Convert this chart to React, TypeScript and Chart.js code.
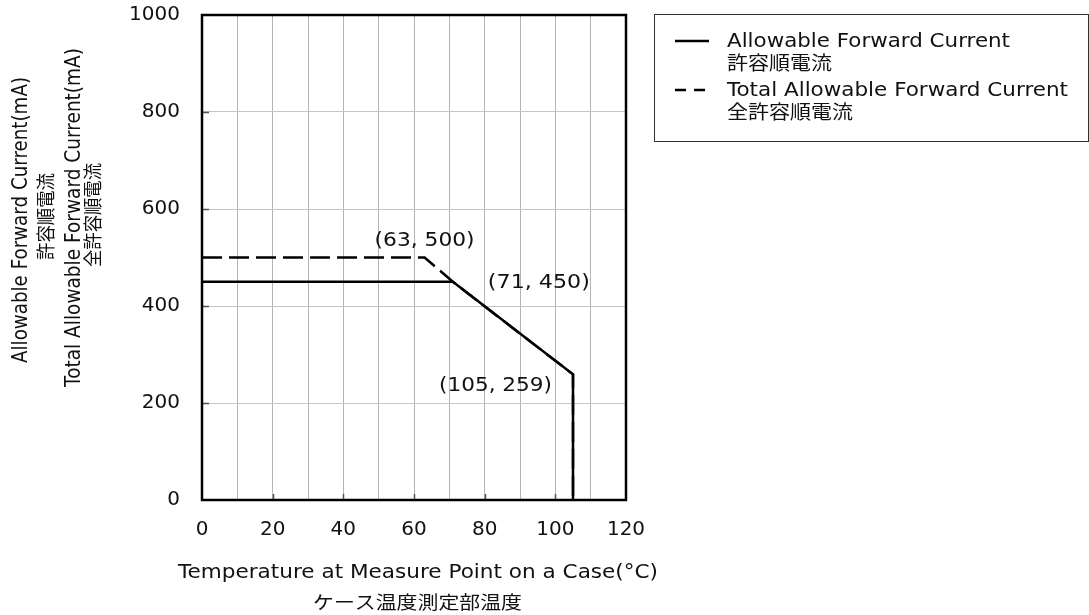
import React, { useEffect, useRef } from "react";
import { Chart, registerables } from "chart.js";

Chart.register(...registerables);

// Data
const solidX = [0, 71, 105, 105];
const solidY = [450, 450, 259, 0];
const dashX = [0, 63, 71, 105, 105];
const dashY = [500, 500, 450, 259, 0];
const noteX = [63, 71, 105];
const noteY = [500, 450, 259];
const noteText = ["(63, 500)", "(71, 450)", "(105, 259)"];
const xTitle = ["Temperature at Measure Point on a Case(°C)", "ケース温度測定部温度"];
const yTitle = [
  "Allowable Forward Current(mA)",
  "許容順電流",
  "Total Allowable Forward Current(mA)",
  "全許容順電流",
];
const legendLabels = [
  ["Allowable Forward Current", "許容順電流"],
  ["Total Allowable Forward Current", "全許容順電流"],
];

const FONT = "'DejaVu Sans', Verdana, sans-serif";
const CJK = "'Noto Sans CJK JP', 'DejaVu Sans', sans-serif";

// draw text scaled along its own axis to a given width
function txt(
  ctx: any,
  s: string,
  x: number,
  y: number,
  font: string,
  width: number,
  align: "left" | "center" | "right"
) {
  ctx.font = font;
  ctx.textAlign = "left";
  ctx.textBaseline = "alphabetic";
  const w = ctx.measureText(s).width;
  const sx = width / w;
  const x0 = align === "left" ? x : align === "center" ? x - width / 2 : x - width;
  ctx.save();
  ctx.translate(x0, y);
  ctx.scale(sx, 1);
  ctx.fillText(s, 0, 0);
  ctx.restore();
}

const overlay = {
  id: "overlay",
  afterDraw(chart: any) {
    const ctx = chart.ctx as CanvasRenderingContext2D;
    const { left, right, top, bottom } = chart.chartArea;
    const xs = chart.scales.x;
    const ys = chart.scales.y;
    ctx.save();
    // inner tick marks
    ctx.strokeStyle = "#555";
    ctx.lineWidth = 1.5;
    for (let v = 200; v <= 800; v += 200) {
      const py = Math.round(ys.getPixelForValue(v)) + 0.5;
      ctx.beginPath();
      ctx.moveTo(left, py);
      ctx.lineTo(left + 7, py);
      ctx.stroke();
    }
    for (let v = 20; v <= 100; v += 20) {
      const px = Math.round(xs.getPixelForValue(v)) + 0.5;
      ctx.beginPath();
      ctx.moveTo(px, bottom);
      ctx.lineTo(px, bottom - 6);
      ctx.stroke();
    }
    // box
    ctx.strokeStyle = "#000";
    ctx.lineWidth = 2.5;
    ctx.strokeRect(left, top, right - left, bottom - top);

    ctx.fillStyle = "#111";
    // annotations
    const offs = [
      { dx: 0, dy: -12, w: 100, align: "center" },
      { dx: 35, dy: 6, w: 102, align: "left" },
      { dx: -21, dy: 16.5, w: 113, align: "right" },
    ];
    noteText.forEach((t, i) => {
      const px = xs.getPixelForValue(noteX[i]);
      const py = ys.getPixelForValue(noteY[i]);
      txt(ctx, t, px + offs[i].dx, py + offs[i].dy, `20px ${FONT}`, offs[i].w, offs[i].align as any);
    });

    // x title
    txt(ctx, xTitle[0], 418, 578, `20px ${FONT}`, 480, "center");
    txt(ctx, xTitle[1], 417.5, 609, `18px ${CJK}`, 209, "center");

    // y title (rotated)
    const yLines = [
      { x: 27, cy: 220, w: 286, font: `21px ${FONT}` },
      { x: 53, cy: 216.5, w: 87, font: `19px ${CJK}` },
      { x: 80, cy: 217.5, w: 339, font: `21px ${FONT}` },
      { x: 100, cy: 215, w: 104, font: `19px ${CJK}` },
    ];
    yTitle.forEach((t, i) => {
      const L = yLines[i];
      ctx.save();
      ctx.translate(L.x, L.cy);
      ctx.rotate(-Math.PI / 2);
      txt(ctx, t, 0, 0, L.font, L.w, "center");
      ctx.restore();
    });

    // legend
    ctx.strokeStyle = "#333";
    ctx.lineWidth = 1;
    ctx.strokeRect(654.5, 14.5, 434, 127);
    const rows = [41, 90];
    const lw = [283, 341];
    const cw = [105, 126];
    ctx.lineWidth = 2.5;
    ctx.strokeStyle = "#000";
    rows.forEach((ry, i) => {
      ctx.beginPath();
      ctx.setLineDash(i === 0 ? [] : [11, 8]);
      ctx.moveTo(675, ry);
      ctx.lineTo(709, ry);
      ctx.stroke();
      ctx.setLineDash([]);
      txt(ctx, legendLabels[i][0], 727, ry + 6, `19px ${FONT}`, lw[i], "left");
      txt(ctx, legendLabels[i][1], 727, ry + 29, `19px ${CJK}`, cw[i], "left");
    });
    ctx.restore();
  },
};

export default function App() {
  const ref = useRef<HTMLCanvasElement>(null);
  useEffect(() => {
    if (!ref.current) return;
    const chart = new Chart(ref.current, {
      type: "line",
      data: {
        datasets: [
          {
            label: "Allowable Forward Current",
            data: solidX.map((x, i) => ({ x, y: solidY[i] })),
            borderColor: "#000",
            borderWidth: 2.5,
            pointRadius: 0,
            fill: false,
            tension: 0,
            order: 0,
          },
          {
            label: "Total Allowable Forward Current",
            data: dashX.map((x, i) => ({ x, y: dashY[i] })),
            borderColor: "#000",
            borderWidth: 2.5,
            borderDash: [20, 7],
            pointRadius: 0,
            fill: false,
            tension: 0,
            order: 1,
          },
        ],
      },
      options: {
        responsive: false,
        animation: false,
        layout: { padding: { left: 0, top: 15, right: 463, bottom: 0 } },
        plugins: { legend: { display: false }, tooltip: { enabled: false } },
        scales: {
          x: {
            type: "linear",
            min: 0,
            max: 120,
            afterFit: (s: any) => {
              s.height = 115;
              s.paddingLeft = 0;
              s.paddingRight = 0;
            },
            ticks: {
              stepSize: 10,
              autoSkip: false,
              maxRotation: 0,
              padding: 18,
              color: "#111",
              font: { family: FONT, size: 20 },
              callback: (v: any) => (Number(v) % 20 === 0 ? String(v) : ""),
            },
            grid: { color: "#b4b4b4", lineWidth: 1, drawTicks: false, tickLength: 0 },
            border: { display: false },
          },
          y: {
            type: "linear",
            min: 0,
            max: 1000,
            afterFit: (s: any) => {
              s.width = 202;
              s.paddingTop = 0;
              s.paddingBottom = 0;
            },
            ticks: {
              stepSize: 200,
              padding: 22,
              color: "#111",
              font: { family: FONT, size: 20 },
              callback: (v: any) => String(v),
            },
            grid: { color: "#c4c4c4", lineWidth: 1, drawTicks: false, tickLength: 0 },
            border: { display: false },
          },
        },
      },
      plugins: [overlay],
    });
    return () => chart.destroy();
  }, []);
  return (
    <div style={{ position: "fixed", left: 0, top: 0, width: 1089, height: 615, background: "#fff" }}>
      <canvas ref={ref} width={1089} height={615} />
    </div>
  );
}
